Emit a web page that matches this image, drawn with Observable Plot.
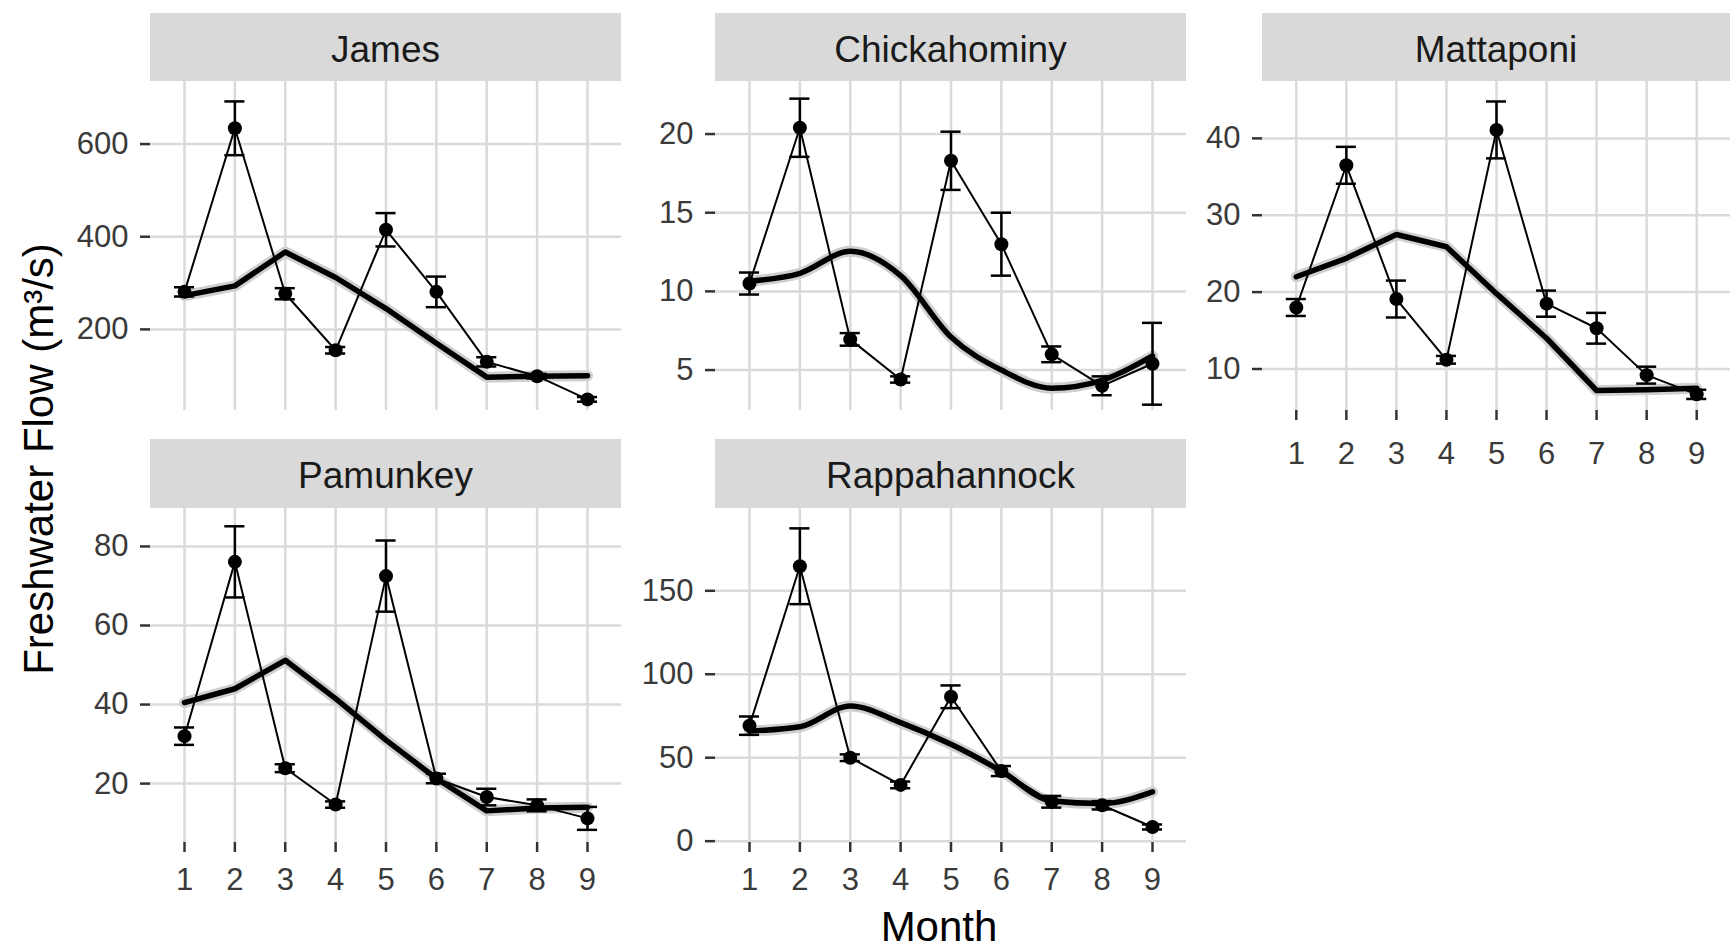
<!DOCTYPE html>
<html><head><meta charset="utf-8">
<script src="https://cdn.jsdelivr.net/npm/d3@7"></script>
<script src="https://cdn.jsdelivr.net/npm/@observablehq/plot@0.6"></script>
<style>
body{margin:0;background:#fff;}
#root{position:relative;width:1730px;height:951px;overflow:hidden;font-family:"Liberation Sans",Arial,sans-serif;background:#fff;}
.strip{position:absolute;background:#d9d9d9;color:#1a1a1a;font-size:37px;line-height:1;display:flex;align-items:center;justify-content:center;padding-top:4px;box-sizing:border-box;}
.panel{position:absolute;}
.title{position:absolute;white-space:nowrap;font-size:42px;line-height:1;color:#000;}
</style></head><body><div id="root"></div>
<script>
// ---- data ----
const months = [1, 2, 3, 4, 5, 6, 7, 8, 9];
const riverNames = ["James", "Chickahominy", "Mattaponi", "Pamunkey", "Rappahannock"];

const jamesMean = [281, 634, 277, 155, 415, 281, 130, 99, 49];
const jamesSE   = [10, 58, 12, 7, 36, 33, 10, 5, 5];
const jamesFit  = [273, 294, 367, 312, 245, 170, 97, 99, 100];
const jamesTicks = [200, 400, 600];

const chickMean = [10.5, 20.4, 6.95, 4.4, 18.3, 13.0, 6.0, 4.0, 5.4];
const chickSE   = [0.7, 1.85, 0.4, 0.2, 1.85, 2.0, 0.5, 0.6, 2.6];
const chickFit  = [10.65, 11.15, 12.55, 11.0, 7.1, 5.0, 3.85, 4.35, 5.9];
const chickTicks = [5, 10, 15, 20];

const mattMean = [18.0, 36.5, 19.1, 11.2, 41.1, 18.5, 15.3, 9.2, 6.7];
const mattSE   = [1.1, 2.4, 2.4, 0.5, 3.7, 1.7, 2.0, 1.1, 0.6];
const mattFit  = [22.0, 24.4, 27.5, 25.9, 19.8, 14.0, 7.2, 7.3, 7.5];
const mattTicks = [10, 20, 30, 40];

const pamMean = [32.0, 76.1, 23.9, 14.7, 72.5, 21.3, 16.6, 14.5, 11.2];
const pamSE   = [2.2, 9.0, 1.0, 0.8, 9.0, 1.2, 2.1, 1.5, 2.9];
const pamFit  = [40.5, 44.0, 51.2, 41.5, 31.0, 21.3, 13.1, 13.8, 14.0];
const pamTicks = [20, 40, 60, 80];

const rappMean = [69.2, 164.7, 50.0, 33.7, 86.5, 42.0, 23.6, 21.5, 8.5];
const rappSE   = [5.5, 22.7, 2.0, 2.0, 6.8, 3.0, 3.5, 2.5, 1.5];
const rappFit  = [66, 68.5, 81, 71, 58, 42, 24, 22.5, 29.5];
const rappTicks = [0, 50, 100, 150];

const xLabel = "Month";
const yLabel = "Freshwater Flow (m³/s)";

// ---- layout (positions / styles only) ----
const layout = [
  {left:150, top:81, w:471, h:329, strip:[13,81], yDomain:[25,735], xAxis:false, curve:"linear"},
  {left:715, top:81, w:471, h:329, strip:[13,81], yDomain:[2.43,23.34], xAxis:false, curve:"monotone-x"},
  {left:1262, top:81, w:468, h:329, strip:[13,81], yDomain:[4.6,47.4], xAxis:true, pad:21, curve:"linear"},
  {left:150, top:508, w:471, h:334, strip:[439,508], yDomain:[5.1,89.6], xAxis:true, pad:15, curve:"linear"},
  {left:715, top:508, w:471, h:334, strip:[439,508], yDomain:[-0.8,199.3], xAxis:true, pad:15, curve:"monotone-x"}
];

const rivers = [
  {mean:jamesMean, se:jamesSE, fit:jamesFit, ticks:jamesTicks},
  {mean:chickMean, se:chickSE, fit:chickFit, ticks:chickTicks},
  {mean:mattMean, se:mattSE, fit:mattFit, ticks:mattTicks},
  {mean:pamMean, se:pamSE, fit:pamFit, ticks:pamTicks},
  {mean:rappMean, se:rappSE, fit:rappFit, ticks:rappTicks}
];

const root = document.getElementById("root");
const FONT = '"Liberation Sans", Arial, sans-serif';

rivers.forEach((river, k) => {
  const cfg = layout[k];
  const rows = months.map((m, i) => ({month: m, mean: river.mean[i], se: river.se[i], fit: river.fit[i]}));
  const ml = 150;
  const mb = cfg.xAxis ? 80 : 0;
  const gridStyle = {stroke: "#dadada", strokeOpacity: 1, strokeWidth: 2.5};
  const axisText = {fontSize: 31, color: "#3a3a3a", stroke: "#333", strokeWidth: 2.5};
  const marks = [
    Plot.gridX(months, gridStyle),
    Plot.gridY(river.ticks, gridStyle),
    Plot.axisY(river.ticks, {tickSize: 10, tickPadding: 12, label: null, ...axisText}),
    Plot.line(rows, {x: "month", y: "fit", stroke: "#cfcfcf", strokeWidth: 11, curve: cfg.curve}),
    Plot.line(rows, {x: "month", y: "fit", stroke: "#000", strokeWidth: 5.5, curve: cfg.curve}),
    Plot.line(rows, {x: "month", y: "mean", stroke: "#000", strokeWidth: 2}),
    Plot.ruleX(rows, {x: "month", y1: d => d.mean - d.se, y2: d => d.mean + d.se, stroke: "#000", strokeWidth: 2.5}),
    Plot.ruleY(rows, {y: d => d.mean - d.se, x1: d => d.month - 0.2, x2: d => d.month + 0.2, stroke: "#000", strokeWidth: 2.5}),
    Plot.ruleY(rows, {y: d => d.mean + d.se, x1: d => d.month - 0.2, x2: d => d.month + 0.2, stroke: "#000", strokeWidth: 2.5}),
    Plot.dot(rows, {x: "month", y: "mean", r: 7, fill: "#000", stroke: null})
  ];
  if (cfg.xAxis) {
    marks.push(Plot.axisX(months, {tickSize: 10, tickPadding: cfg.pad, label: null, tickFormat: d => String(d), ...axisText}));
  }
  const chart = Plot.plot({
    width: ml + cfg.w,
    height: cfg.h + mb,
    marginLeft: ml, marginRight: 0, marginTop: 0, marginBottom: mb,
    style: {background: "transparent", overflow: "visible", fontFamily: FONT, fontSize: "31px", maxWidth: "none"},
    x: {domain: [0.325, 9.675], axis: null},
    y: {domain: cfg.yDomain, axis: null},
    marks
  });
  chart.classList.add("panel");
  chart.style.left = (cfg.left - ml) + "px";
  chart.style.top = cfg.top + "px";
  root.appendChild(chart);

  const strip = document.createElement("div");
  strip.className = "strip";
  strip.style.left = cfg.left + "px";
  strip.style.top = cfg.strip[0] + "px";
  strip.style.width = cfg.w + "px";
  strip.style.height = (cfg.strip[1] - cfg.strip[0]) + "px";
  strip.textContent = riverNames[k];
  root.appendChild(strip);
});

const xt = document.createElement("div");
xt.className = "title";
xt.textContent = xLabel;
xt.style.left = "939px";
xt.style.top = "927px";
xt.style.transform = "translate(-50%,-50%)";
root.appendChild(xt);

const yt = document.createElement("div");
yt.className = "title";
yt.textContent = yLabel;
yt.style.left = "39px";
yt.style.top = "459px";
yt.style.transform = "translate(-50%,-50%) rotate(-90deg)";
root.appendChild(yt);
</script></body></html>
